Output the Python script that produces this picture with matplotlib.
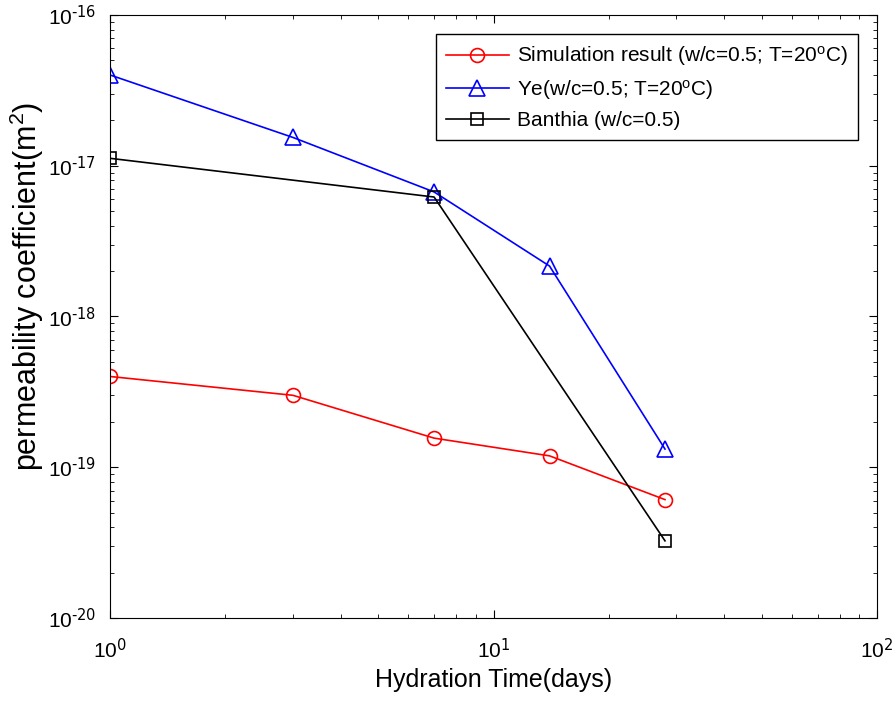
import numpy as np
import matplotlib.pyplot as plt
from matplotlib.ticker import FuncFormatter

plt.rcParams['font.family'] = ['Liberation Sans', 'DejaVu Sans']
plt.rcParams['mathtext.default'] = 'regular'

days_sim = [1, 3, 7, 14, 28]
perm_sim = [4.0e-19, 3.0e-19, 1.56e-19, 1.19e-19, 6.1e-20]

days_ye = [1, 3, 7, 14, 28]
perm_ye = [4.0e-17, 1.54e-17, 6.7e-18, 2.16e-18, 1.32e-19]

days_banthia = [1, 7, 28]
perm_banthia = [1.12e-17, 6.2e-18, 3.25e-20]

labels = ['Simulation result (w/c=0.5; T=20$^{o}$C)',
          'Ye(w/c=0.5; T=20$^{o}$C)',
          'Banthia (w/c=0.5)']


def pow10(v, pos):
    # MATLAB style: plain hyphen in the exponent
    e = int(round(np.log10(v)))
    return r'$10^{\text{%d}}$' % e


def main():
    fig = plt.figure(figsize=(8.96, 7.03), dpi=100)
    ax = fig.add_axes([0.1228, 0.1209, 0.856, 0.8578])

    ax.loglog(days_sim, perm_sim, '-o', color='red', mfc='none',
              ms=10, lw=1.2, mew=1.2, label=labels[0])
    ax.loglog(days_ye, perm_ye, '-^', color='blue', mfc='none',
              ms=12, lw=1.2, mew=1.2, label=labels[1])
    ax.loglog(days_banthia, perm_banthia, '-s', color='black', mfc='none',
              ms=8, lw=1.2, mew=1.2, label=labels[2])

    ax.set_xlim(1, 100)
    ax.set_ylim(1e-20, 1e-16)
    ax.xaxis.set_major_formatter(FuncFormatter(pow10))
    ax.yaxis.set_major_formatter(FuncFormatter(pow10))
    ax.tick_params(which='both', direction='in', top=True, right=True,
                   labelsize=15)
    ax.tick_params(which='major', length=6)
    ax.tick_params(which='minor', length=3)
    ax.tick_params(axis='x', which='major', pad=14)
    ax.tick_params(axis='y', which='major', pad=10)
    ax.set_xlabel('Hydration Time(days)', fontsize=18, labelpad=4)
    ax.set_ylabel('permeability coefficient(m$^{2}$)', fontsize=22)
    ax.yaxis.set_label_coords(-0.083, 0.55)

    leg = ax.legend(loc='upper right', fontsize=15, fancybox=False,
                    edgecolor='black', framealpha=1, handlelength=3,
                    borderaxespad=0.9, labelspacing=0.45,
                    handletextpad=0.4, borderpad=0.5)
    leg.get_frame().set_linewidth(1.0)

    plt.savefig('out.png', dpi=100)


if __name__ == '__main__':
    main()
